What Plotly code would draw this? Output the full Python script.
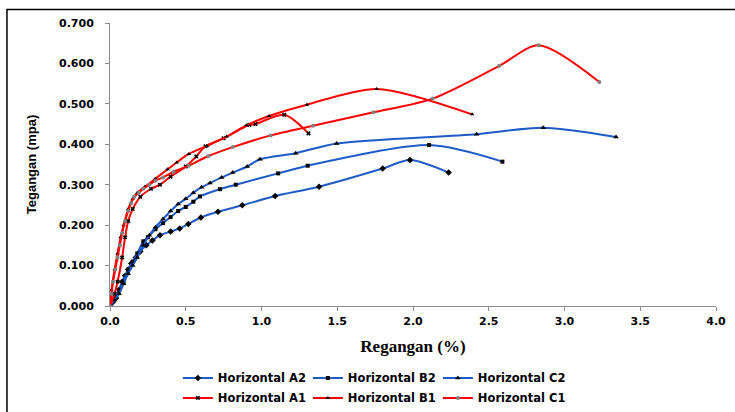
import plotly.graph_objects as go

# ---- data (strain %, stress MPa) ----
a2_x = [0, 0.02, 0.04, 0.06, 0.08, 0.10, 0.12, 0.14, 0.17, 0.20, 0.24, 0.28, 0.33, 0.40, 0.46, 0.517, 0.60, 0.713, 0.873, 1.09, 1.38, 1.80, 1.98, 2.235]
a2_y = [0, 0.010, 0.020, 0.040, 0.060, 0.075, 0.090, 0.105, 0.120, 0.135, 0.150, 0.162, 0.175, 0.184, 0.192, 0.203, 0.219, 0.233, 0.249, 0.272, 0.295, 0.340, 0.361, 0.330]

b2_x = [0, 0.03, 0.06, 0.09, 0.12, 0.15, 0.18, 0.22, 0.25, 0.30, 0.35, 0.40, 0.45, 0.50, 0.55, 0.594, 0.726, 0.83, 1.11, 1.305, 2.106, 2.59]
b2_y = [0, 0.020, 0.040, 0.060, 0.090, 0.110, 0.130, 0.160, 0.170, 0.190, 0.205, 0.220, 0.235, 0.245, 0.258, 0.271, 0.289, 0.300, 0.328, 0.347, 0.398, 0.357]

c2_x = [0, 0.03, 0.06, 0.09, 0.12, 0.15, 0.18, 0.22, 0.26, 0.30, 0.35, 0.40, 0.45, 0.50, 0.55, 0.605, 0.66, 0.737, 0.81, 0.906, 0.99, 1.226, 1.496, 2.42, 2.86, 3.34]
c2_y = [0, 0.015, 0.030, 0.055, 0.080, 0.100, 0.120, 0.150, 0.175, 0.195, 0.215, 0.235, 0.252, 0.265, 0.280, 0.294, 0.304, 0.318, 0.330, 0.345, 0.363, 0.378, 0.402, 0.425, 0.441, 0.418]

a1_x = [0, 0.03, 0.05, 0.08, 0.10, 0.12, 0.15, 0.20, 0.27, 0.33, 0.40, 0.50, 0.57, 0.63, 0.75, 0.92, 0.96, 1.15, 1.31]
a1_y = [0, 0.030, 0.060, 0.120, 0.170, 0.210, 0.240, 0.270, 0.290, 0.300, 0.320, 0.345, 0.370, 0.395, 0.415, 0.448, 0.450, 0.473, 0.427]

b1_x = [0, 0.01, 0.03, 0.05, 0.07, 0.09, 0.12, 0.15, 0.18, 0.23, 0.30, 0.38, 0.44, 0.52, 0.64, 0.77, 0.90, 1.05, 1.30, 1.76, 2.39]
b1_y = [0, 0.040, 0.090, 0.130, 0.170, 0.200, 0.240, 0.265, 0.280, 0.295, 0.315, 0.338, 0.355, 0.376, 0.396, 0.419, 0.447, 0.470, 0.498, 0.537, 0.474]

c1_x = [0, 0.01, 0.02, 0.035, 0.05, 0.065, 0.08, 0.10, 0.12, 0.14, 0.16, 0.19, 0.22, 0.26, 0.30, 0.35, 0.42, 0.52, 0.65, 0.81, 1.06, 1.34, 1.74, 2.13, 2.57, 2.83, 3.23]
c1_y = [0, 0.030, 0.060, 0.090, 0.120, 0.150, 0.180, 0.210, 0.235, 0.255, 0.270, 0.280, 0.290, 0.300, 0.310, 0.318, 0.332, 0.347, 0.371, 0.393, 0.422, 0.446, 0.479, 0.513, 0.594, 0.645, 0.554]

x_ticks = [0.0, 0.5, 1.0, 1.5, 2.0, 2.5, 3.0, 3.5, 4.0]
x_tick_labels = ["0.0", "0.5", "1.0", "1.5", "2.0", "2.5", "3.0", "3.5", "4.0"]
y_ticks = [0.0, 0.1, 0.2, 0.3, 0.4, 0.5, 0.6, 0.7]
y_tick_labels = ["0.000", "0.100", "0.200", "0.300", "0.400", "0.500", "0.600", "0.700"]

BLUE = "#1F5BC6"
RED = "#FF0000"

fig = go.Figure()

def add(name, xs, ys, color, symbol, mcolor, msize, legend):
    fig.add_trace(go.Scatter(
        x=xs, y=ys, name=name, mode="lines+markers",
        line=dict(color=color, width=2, shape="spline", smoothing=0.8),
        marker=dict(symbol=symbol, size=msize, color=mcolor, line=dict(width=0)),
        legend=legend,
    ))

add("Horizontal A2", a2_x, a2_y, BLUE, "diamond", "black", 5, "legend")
add("Horizontal B2", b2_x, b2_y, BLUE, "square", "black", 4, "legend")
add("Horizontal C2", c2_x, c2_y, BLUE, "triangle-up", "black", 5, "legend")
add("Horizontal A1", a1_x, a1_y, RED, "x", "black", 4, "legend2")
add("Horizontal B1", b1_x, b1_y, RED, "triangle-up", "black", 4, "legend2")
add("Horizontal C1", c1_x, c1_y, RED, "circle", "#808080", 4, "legend2")

legfont = dict(family="DejaVu Sans", size=11.5, color="black", weight="bold")

fig.update_layout(
    width=735, height=412,
    margin=dict(l=110, r=19, t=23, b=106, autoexpand=False),
    paper_bgcolor="white", plot_bgcolor="white",
    showlegend=True,
    legend=dict(orientation="h", x=0.112, y=-0.254, xanchor="left", yanchor="middle",
                font=legfont, entrywidth=85, bgcolor="rgba(0,0,0,0)", tracegroupgap=0),
    legend2=dict(orientation="h", x=0.112, y=-0.325, xanchor="left", yanchor="middle",
                 font=legfont, entrywidth=85, bgcolor="rgba(0,0,0,0)", tracegroupgap=0),
    xaxis=dict(range=[0, 4.0], tickvals=x_ticks, ticktext=x_tick_labels,
               showgrid=False, zeroline=False, showline=True, linecolor="#8c8c8c", linewidth=1,
               ticks="outside", ticklen=4, tickcolor="#8c8c8c", ticklabelstandoff=1,
               tickfont=dict(family="DejaVu Sans", size=11, color="black", weight="bold"),
               title=dict(text="Regangan (%)", standoff=12,
                          font=dict(family="Liberation Serif, DejaVu Serif, serif", size=17, color="black", weight="bold"))),
    yaxis=dict(range=[0, 0.7], tickvals=y_ticks, ticktext=y_tick_labels,
               showgrid=False, zeroline=False, showline=True, linecolor="#8c8c8c", linewidth=1,
               ticks="outside", ticklen=4, tickcolor="#8c8c8c", ticklabelstandoff=9,
               tickfont=dict(family="DejaVu Sans", size=11, color="black", weight="bold"),
               title=dict(text="Tegangan (mpa)", standoff=19,
                          font=dict(family="Liberation Sans Narrow, Liberation Sans", size=13, color="black", weight="bold"))),
    shapes=[dict(type="rect", xref="paper", yref="paper", x0=-0.17, x1=1.2, y0=-0.6, y1=1.048,
                 line=dict(color="black", width=1.5), fillcolor="rgba(0,0,0,0)", layer="below")],
)

fig.write_html("out.html")
